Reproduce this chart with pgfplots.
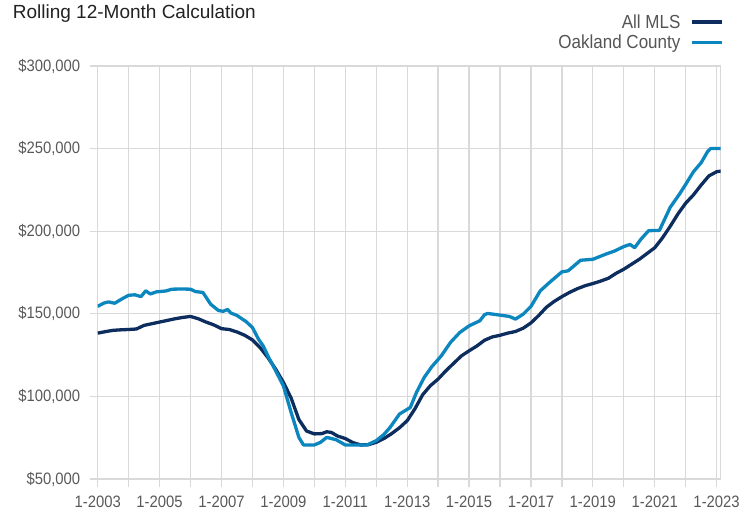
\documentclass[border=0pt]{standalone}
\usepackage{fontspec}
\setmainfont{Liberation Sans}
\newfontfamily\tickfont{Liberation Sans}[FakeStretch=0.9]
\usepackage{pgfplots}
\pgfplotsset{compat=1.18}
\definecolor{mlsc}{HTML}{0C2D5E}
\definecolor{oakc}{HTML}{0B86BE}
\definecolor{gridc}{HTML}{D9D9D9}
\definecolor{tickc}{HTML}{595959}
\definecolor{legc}{HTML}{555555}
\definecolor{titc}{HTML}{222222}
\begin{document}
\begin{tikzpicture}
\useasboundingbox (-97.7bp,-36bp) rectangle (657.3bp,479bp);
\begin{axis}[
  at={(0,0)}, anchor=south west,
  scale only axis, width=623bp, height=413bp,
  xmin=2003, xmax=2023.13, ymin=50, ymax=300,
  xtick={2003,2004,...,2023},
  xticklabels={1-2003,,1-2005,,1-2007,,1-2009,,1-2011,,1-2013,,1-2015,,1-2017,,1-2019,,1-2021,,1-2023},
  ytick={50,100,150,200,250,300},
  yticklabels={{\$50,000},{\$100,000},{\$150,000},{\$200,000},{\$250,000},{\$300,000}},
  grid=major,
  grid style={gridc, line width=1.3bp},
  axis line style={gridc, line width=1.3bp},
  tick align=outside, major tick length=8bp, tick pos=left,
  major tick style={gridc, line width=1.3bp},
  tick label style={font=\tickfont\fontsize{16.5bp}{18bp}\selectfont, text=tickc},
  yticklabel style={xshift=-6bp},
  xticklabel style={anchor=base, yshift=-20bp},
  legend plot pos=right,
  legend cell align=right,
  legend image code/.code={\draw[#1, line width=3.2bp, line cap=butt] (0bp,0bp) -- (30bp,0bp);},
  legend style={at={(axis description cs:1.0042,1.13)}, anchor=north east, draw=none, fill=none,
    inner sep=0pt, font=\tickfont\fontsize{18.9bp}{22bp}\selectfont, text=legc,
    row sep=1.5bp, column sep=7.5bp, nodes={inner sep=2bp}},
]
\addplot[mlsc, line width=3.3bp, line join=round] coordinates {
(2003.00,138.3) (2003.25,139.2) (2003.50,140.0) (2003.75,140.3) (2004.00,140.5)
(2004.25,140.8) (2004.50,143.0) (2004.75,144.0) (2005.00,145.0) (2005.25,146.0)
(2005.50,147.0) (2005.75,147.8) (2006.00,148.4) (2006.25,147.0) (2006.50,145.0)
(2006.75,143.3) (2007.00,141.0) (2007.25,140.5) (2007.50,139.0) (2007.75,137.0)
(2008.00,134.2) (2008.25,129.5) (2008.50,123.5) (2008.75,116.5) (2009.00,108.5)
(2009.25,99.0) (2009.50,86.0) (2009.75,79.0) (2010.00,77.3) (2010.25,77.5)
(2010.40,78.6) (2010.55,78.2) (2010.75,76.0) (2011.00,74.5) (2011.25,72.0)
(2011.50,70.6) (2011.75,70.8) (2012.00,72.2) (2012.25,74.5) (2012.50,77.5)
(2012.75,81.0) (2013.00,85.3) (2013.25,92.5) (2013.50,101.0) (2013.75,106.5)
(2014.00,110.5) (2014.25,115.5) (2014.50,120.0) (2014.75,124.5) (2015.00,127.6)
(2015.25,130.5) (2015.50,134.0) (2015.75,136.0) (2016.00,137.0) (2016.25,138.3)
(2016.50,139.3) (2016.75,141.3) (2017.00,144.5) (2017.25,149.0) (2017.50,154.0)
(2017.75,157.5) (2018.00,160.4) (2018.25,163.0) (2018.50,165.2) (2018.75,167.0)
(2019.00,168.3) (2019.25,169.8) (2019.50,171.5) (2019.75,174.5) (2020.00,177.0)
(2020.25,180.0) (2020.50,183.0) (2020.75,186.5) (2021.00,190.0) (2021.25,196.0)
(2021.50,203.0) (2021.75,210.5) (2022.00,217.0) (2022.25,222.0) (2022.50,228.0)
(2022.75,233.5) (2023.00,236.0) (2023.13,236.4)
};
\addlegendentry{All MLS}
\addplot[oakc, line width=3.3bp, line join=round] coordinates {
(2003.00,154.5) (2003.20,156.5) (2003.35,157.2) (2003.55,156.4) (2003.80,159.2)
(2004.00,161.2) (2004.20,161.5) (2004.40,160.4) (2004.55,163.9) (2004.70,162.0)
(2004.90,163.3) (2005.20,163.8) (2005.40,164.9) (2005.70,165.0) (2006.00,164.9)
(2006.15,163.5) (2006.40,162.9) (2006.65,155.8) (2006.90,152.0) (2007.05,151.5)
(2007.20,152.6) (2007.30,150.5) (2007.50,149.0) (2007.80,145.2) (2008.00,141.7)
(2008.20,134.5) (2008.35,130.5) (2008.50,124.5) (2008.75,115.5) (2009.00,106.4)
(2009.25,90.3) (2009.50,75.2) (2009.65,70.6) (2010.00,70.6) (2010.20,72.2)
(2010.40,75.2) (2010.55,74.5) (2010.70,73.8) (2011.00,70.6) (2011.70,70.6)
(2012.00,73.2) (2012.25,77.0) (2012.45,81.3) (2012.75,89.3) (2013.10,93.3)
(2013.30,102.4) (2013.55,111.5) (2013.80,118.1) (2014.10,124.5) (2014.40,132.7)
(2014.70,138.7) (2015.00,142.7) (2015.35,145.8) (2015.50,149.5) (2015.60,150.2)
(2016.00,149.2) (2016.30,148.4) (2016.50,146.8) (2016.75,149.8) (2017.00,154.5)
(2017.30,163.9) (2017.60,169.0) (2018.00,175.4) (2018.20,176.0) (2018.60,182.4)
(2019.00,183.0) (2019.40,186.0) (2019.70,188.0) (2020.00,190.7) (2020.20,192.0)
(2020.35,190.0) (2020.55,195.1) (2020.80,200.3) (2021.15,200.5) (2021.50,214.5)
(2021.80,222.5) (2022.00,228.4) (2022.25,236.0) (2022.50,241.5) (2022.70,248.0)
(2022.80,250.0) (2023.13,250.0)
};
\addlegendentry{Oakland County}
\end{axis}
\node[anchor=base west, inner sep=0pt, font=\fontsize{19bp}{22bp}\selectfont, text=titc] at (-85bp,460.7bp) {Rolling 12-Month Calculation};
\end{tikzpicture}
\end{document}
